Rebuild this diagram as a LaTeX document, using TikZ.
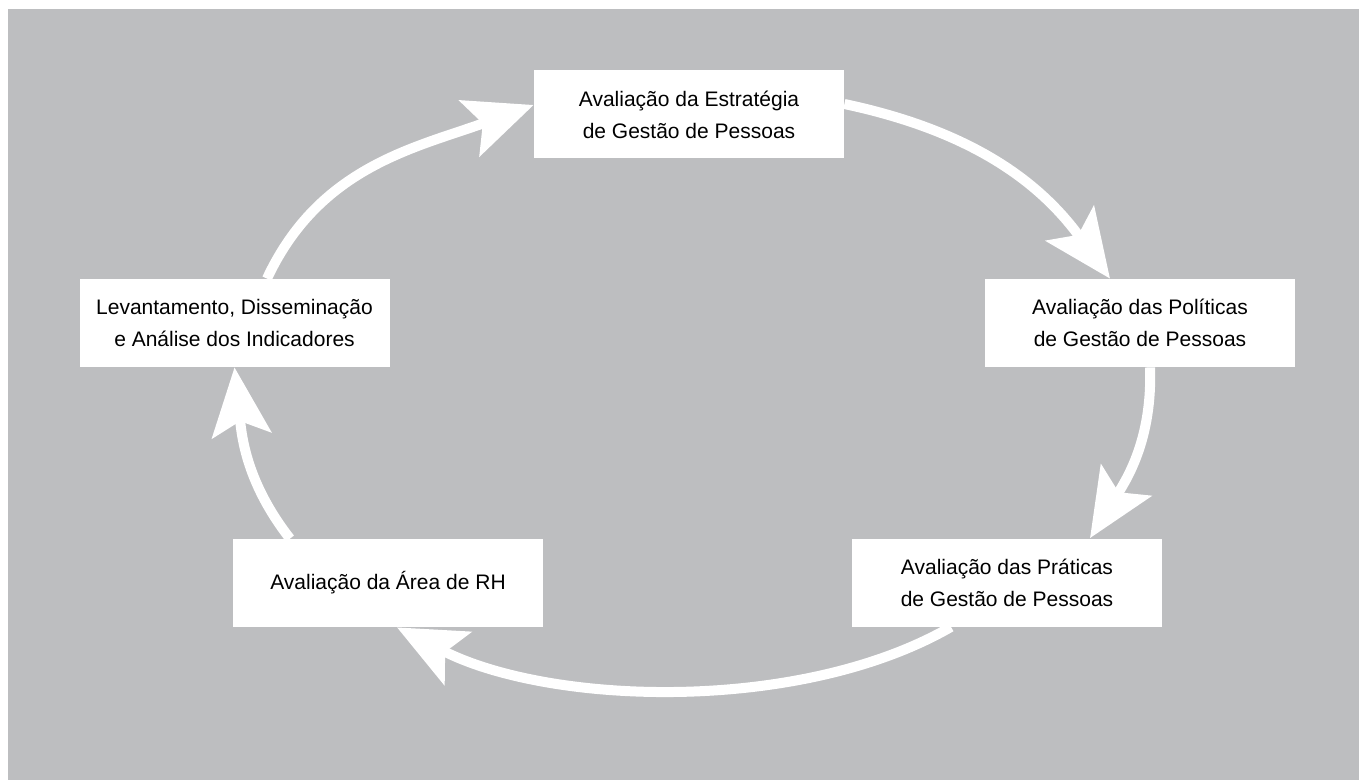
\documentclass[tikz,border=0pt]{standalone}
\usepackage{fontspec}
\setmainfont{Liberation Sans}
\usetikzlibrary{arrows.meta}
\definecolor{bggray}{RGB}{189,190,192}
\begin{document}
\begin{tikzpicture}[x=0.5pt,y=0.5pt]
	\tikzstyle{every node}+=[inner sep=0pt]
	\tikzstyle{stagebox}=[fill=white, minimum width=155pt, minimum height=44pt, align=center, font=\fontsize{10.5}{16}\selectfont]
	\tikzstyle{looparrow}=[white, line width=5pt, -{Stealth[length=34pt, width=29.5pt, inset=7pt]}]
	\useasboundingbox (0,0) rectangle (1359,-780);
	\fill [bggray] (8,-9) rectangle (1359,-780);
	\node [stagebox] (strat) at (689,-114.5) {Avaliação da Estratégia\\de Gestão de Pessoas};
	\node [stagebox] (polit) at (1140,-323) {Avaliação das Políticas\\de Gestão de Pessoas};
	\node [stagebox] (prat) at (1007,-582.5) {Avaliação das Práticas\\de Gestão de Pessoas};
	\node [stagebox] (rh) at (388,-583) {Avaliação da Área de RH};
	\node [stagebox] (lev) at (234.5,-323) {Levantamento, Disseminação\\e Análise dos Indicadores};
	\draw [looparrow] ([xshift=16.25pt]lev.north) to [out=65,in=200] ([yshift=4.75pt]strat.west);
	\draw [looparrow] ([yshift=5.25pt]strat.east) to [out=-12,in=126] ([xshift=-15pt]polit.north);
	\draw [looparrow] ([xshift=5pt]polit.south) to [out=-88,in=58] ([xshift=41.5pt]prat.north);
	\draw [looparrow] ([xshift=-28pt]prat.south) to [out=-150,in=-27,looseness=0.8] ([xshift=4.5pt]rh.south);
	\draw [looparrow] ([xshift=-49pt]rh.north) to [out=128,in=-84] (lev.south);
\end{tikzpicture}
\end{document}
